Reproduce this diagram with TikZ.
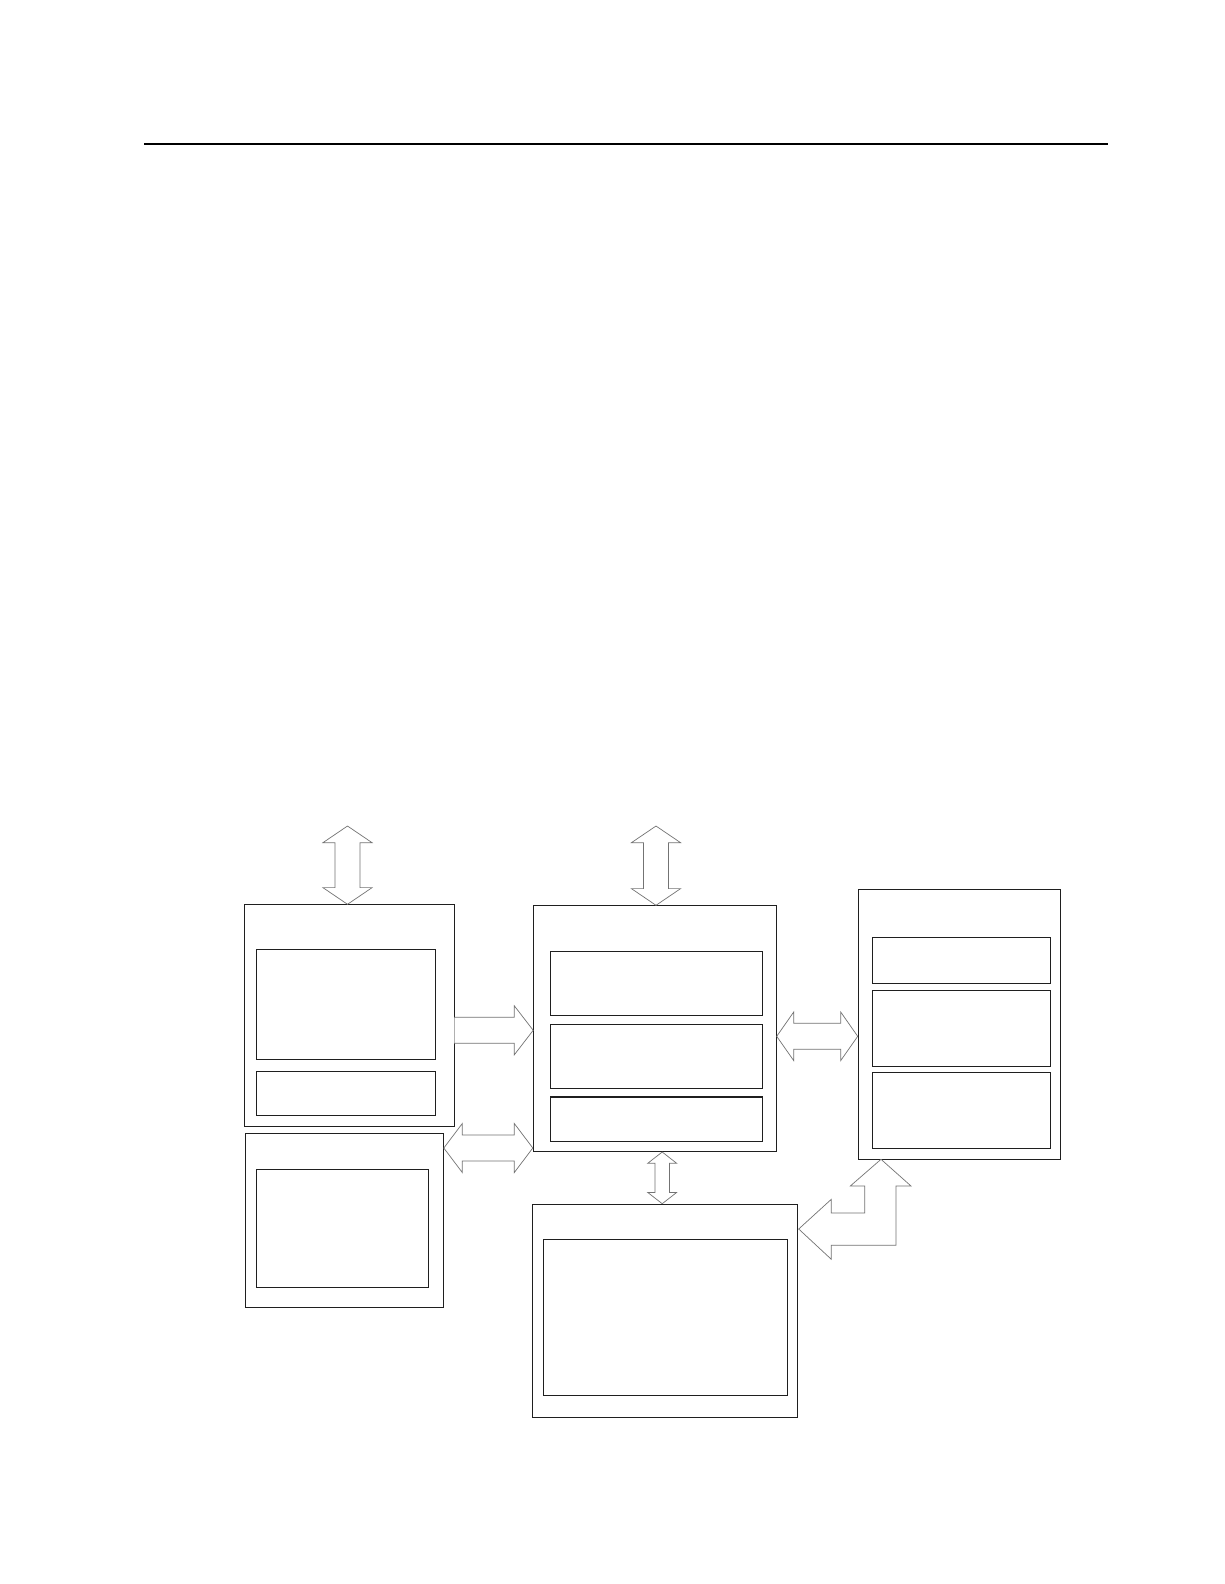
\documentclass[tikz,border=0pt]{standalone}
\usetikzlibrary{calc}
\tikzset{
  box/.style={draw=black!88, line width=1.3pt, rectangle, inner sep=0pt, fill=white},
  blockarrow/.style={draw=black!55, line width=0.7pt, fill=white, line join=miter},
  rule/.style={line width=2pt, draw=black}
}
% vertical double block arrow: cx, ytop, ybot, head half, shaft half, head length
\newcommand{\myvdarrow}[6]{%
  \draw[blockarrow] (#1,#2) -- ({#1+#4},{#2+#6}) -- ({#1+#5},{#2+#6}) -- ({#1+#5},{#3-#6})
   -- ({#1+#4},{#3-#6}) -- (#1,#3) -- ({#1-#4},{#3-#6}) -- ({#1-#5},{#3-#6})
   -- ({#1-#5},{#2+#6}) -- ({#1-#4},{#2+#6}) -- cycle;}
% horizontal double block arrow: cy, xleft, xright, head half, shaft half, head length
\newcommand{\myhdarrow}[6]{%
  \draw[blockarrow] (#2,#1) -- ({#2+#6},{#1-#4}) -- ({#2+#6},{#1-#5}) -- ({#3-#6},{#1-#5})
   -- ({#3-#6},{#1-#4}) -- (#3,#1) -- ({#3-#6},{#1+#4}) -- ({#3-#6},{#1+#5})
   -- ({#2+#6},{#1+#5}) -- ({#2+#6},{#1+#4}) -- cycle;}
\begin{document}
\begin{tikzpicture}[x=1pt,y=-1pt]
\useasboundingbox (0,0) rectangle (1224,1584);
\fill[white] (0,0) rectangle (1224,1584);

% top rule
\coordinate (r1) at (144.3,143.5);
\coordinate (r2) at (1108,143.5);
\draw[rule] (r1) -- (r2);

% left upper block
\node[box, minimum width=210pt, minimum height=222pt] (A) at (349.3,1015.3) {};
\node[box, minimum width=179.3pt, minimum height=110pt] (A1) at (346.05,1004.3) {};
\node[box, minimum width=179.3pt, minimum height=44pt] (A2) at (346.05,1093.3) {};

% left lower block
\node[box, minimum width=198.4pt, minimum height=174pt] (B) at (344.5,1220.3) {};
\node[box, minimum width=172.2pt, minimum height=118pt] (B1) at (342.5,1228.3) {};

% centre block
\node[box, minimum width=243.3pt, minimum height=245.9pt] (C) at (654.85,1028.25) {};
\node[box, minimum width=212.2pt, minimum height=64pt] (C1) at (656.5,983.3) {};
\node[box, minimum width=212.2pt, minimum height=64pt] (C2) at (656.5,1056.3) {};
\node[box, minimum width=212.2pt, minimum height=44.3pt] (C3) at (656.5,1119.15) {};

% right block
\node[box, minimum width=202.4pt, minimum height=269.9pt] (D) at (959.5,1024.25) {};
\node[box, minimum width=178.2pt, minimum height=46pt] (D1) at (961.4,960.3) {};
\node[box, minimum width=178.2pt, minimum height=76pt] (D2) at (961.4,1028.3) {};
\node[box, minimum width=178.2pt, minimum height=75.9pt] (D3) at (961.4,1110.25) {};

% bottom block
\node[box, minimum width=265.4pt, minimum height=213pt] (E) at (664.9,1310.8) {};
\node[box, minimum width=244.5pt, minimum height=156pt] (E1) at (665.55,1317.3) {};

% top arrows
\myvdarrow{347.5}{826}{904.3}{24.6}{12.5}{16.7}
\myvdarrow{656}{826}{905.3}{24.6}{12.5}{16.7}

% A -> C single arrow
\draw[blockarrow] (454.3,1017.3) -- (514.3,1017.3) -- (514.3,1005.8) -- (533.2,1030.3)
  -- (514.3,1054.8) -- (514.3,1043.3) -- (454.3,1043.3);

% B <-> C
\myhdarrow{1148}{443.8}{532.8}{24.5}{13}{18.5}
% C <-> D
\myhdarrow{1036.3}{776.7}{857.7}{24.3}{13}{17}
% C <-> E
\myvdarrow{662.2}{1152}{1203.7}{14.5}{7.3}{11.3}

% D <-> E elbow arrow
\draw[blockarrow] (881,1159.3) -- (911,1186) -- (896,1186) -- (896,1245.3) -- (831.3,1245.3)
  -- (831.3,1259.3) -- (798.7,1229) -- (831.3,1199.3) -- (831.3,1213) -- (864.7,1213)
  -- (864.7,1186) -- (850.3,1186) -- cycle;
\end{tikzpicture}
\end{document}
